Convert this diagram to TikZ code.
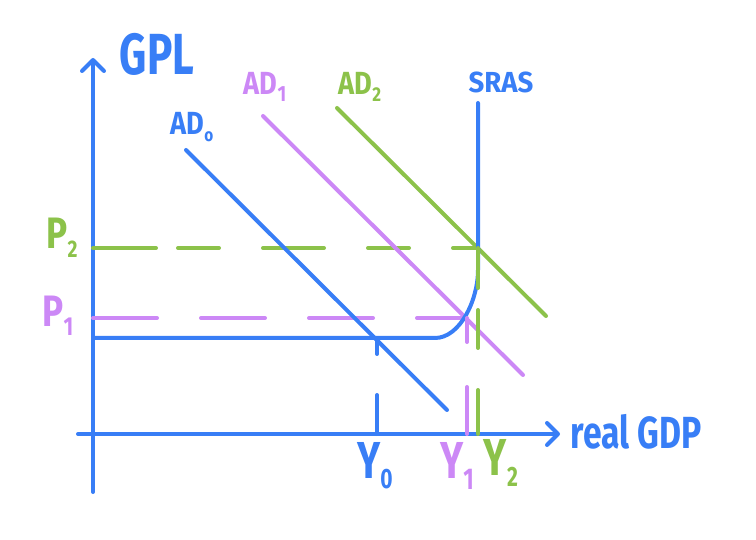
\documentclass[tikz,border=0pt]{standalone}
\usepackage{fontspec}
\setmainfont{Fira Sans}
\usepackage{graphicx}
\usetikzlibrary{arrows.meta}
\definecolor{cblue}{HTML}{387EF6}
\definecolor{cpurple}{HTML}{CC88F6}
\definecolor{cgreen}{HTML}{8CC24A}
\newcommand{\hw}[3]{\scalebox{#1}[1]{\fontsize{#2}{#2}\selectfont\bfseries #3}}
\newcommand{\subhw}[2]{\raisebox{-0.2em}{\fontsize{#1}{#1}\selectfont\bfseries #2}}
\begin{document}
\begin{tikzpicture}[x=1pt,y=-1pt,
  ln/.style={line width=4pt,line cap=round,line join=round},
  lbl/.style={inner sep=0pt,anchor=center},
  >={Straight Barb[length=11pt,width=22pt,round]}]
\useasboundingbox (0,0) rectangle (756,540);
% coordinates
\coordinate (yb) at (93,492);
\coordinate (yt) at (93,58);
\coordinate (xl) at (78,434);
\coordinate (xr) at (560,434);
\coordinate (a0s) at (186,150); \coordinate (a0e) at (447,410);
\coordinate (a1s) at (263,116); \coordinate (a1e) at (523,375);
\coordinate (a2s) at (337,108); \coordinate (a2e) at (546,316);
\coordinate (s0) at (93,338); \coordinate (s1) at (435,338);
\coordinate (s2) at (478,270); \coordinate (s3) at (478,103);
\coordinate (p2l) at (93,248); \coordinate (p2r) at (478,248);
\coordinate (p1l) at (93,318); \coordinate (p1r) at (466,318);
\coordinate (y0t) at (377,338); \coordinate (y0b) at (377,434);
\coordinate (y1t) at (467,318); \coordinate (y1b) at (467,434);
\coordinate (y2t) at (478,248); \coordinate (y2b) at (478,434);
% axes
\draw[ln,cblue,->] (yb) -- (yt);
\draw[ln,cblue,->] (xl) -- (xr);
% dashed horizontals
\draw[ln,cgreen,dash pattern=on 63pt off 22pt on 41pt off 44pt on 61pt off 44pt on 41pt off 44pt] (p2l) -- (p2r);
\draw[ln,cpurple,dash pattern=on 64pt off 44pt] (p1l) -- (p1r);
% AD curves
\draw[ln,cblue] (a0s) -- (a0e);
\draw[ln,cpurple] (a1s) -- (a1e);
\draw[ln,cgreen] (a2s) -- (a2e);
% SRAS
\draw[ln,cblue] (s0) -- (s1) .. controls (460,338) and (478,300) .. (s2) -- (s3);
% dashed verticals
\draw[ln,cblue,dash pattern=on 16pt off 41pt on 200pt] (y0t) -- (y0b);
\draw[ln,cpurple,dash pattern=on 24pt off 45pt on 200pt] (y1t) -- (y1b);
\draw[ln,cgreen,dash pattern=on 40pt off 22pt on 38pt off 42pt on 200pt] (y2t) -- (y2b);
% labels
\node[lbl,text=cblue] (gpl) at (157,54) {\hw{0.73}{58}{GPL}};
\node[lbl,text=cblue] (ad0) at (192,127) {\hw{0.85}{32}{AD\subhw{18}{o}}};
\node[lbl,text=cpurple] (ad1) at (265,87) {\hw{0.85}{32}{AD\subhw{22}{1}}};
\node[lbl,text=cgreen] (ad2) at (360,87) {\hw{0.85}{32}{AD\subhw{20}{2}}};
\node[lbl,text=cblue] (sras) at (501,82) {\hw{0.95}{29}{SRAS}};
\node[lbl,text=cgreen] (p2) at (62,238) {\hw{0.8}{44}{P\subhw{24}{2}}};
\node[lbl,text=cpurple] (p1) at (58,316) {\hw{0.8}{44}{P\subhw{26}{1}}};
\node[lbl,text=cblue] (ylab0) at (375,466) {\hw{0.75}{52}{Y\subhw{28}{0}}};
\node[lbl,text=cpurple] (ylab1) at (457,466) {\hw{0.75}{52}{Y\subhw{30}{1}}};
\node[lbl,text=cgreen] (ylab2) at (501,463) {\hw{0.75}{52}{Y\subhw{28}{2}}};
\node[lbl,text=cblue] (rgdp) at (636,432) {\hw{0.75}{45}{real GDP}};
\end{tikzpicture}
\end{document}
